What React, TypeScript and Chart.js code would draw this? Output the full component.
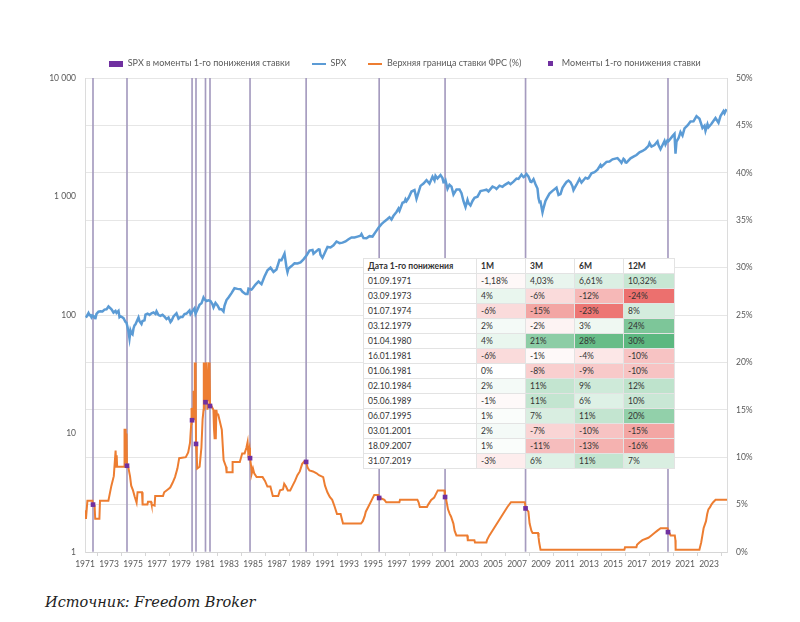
import React, { useEffect, useRef } from 'react';
import { Chart, registerables } from 'chart.js';

Chart.register(...registerables);

// ---------- data ----------
const xTickYears = [1971, 1973, 1975, 1977, 1979, 1981, 1983, 1985, 1987, 1989, 1991, 1993, 1995, 1997, 1999, 2001, 2003, 2005, 2007, 2009, 2011, 2013, 2015, 2017, 2019, 2021, 2023];
const leftTicks = [1, 10, 100, 1000, 10000];
const rightTicks = [0, 5, 10, 15, 20, 25, 30, 35, 40, 45, 50];

const spxDates = [
  '1971-01','1971-02','1971-03','1971-04','1971-05','1971-06','1971-07','1971-08','1971-09','1971-10','1971-11','1971-12',
  '1972-02','1972-04','1972-06','1972-08','1972-10','1972-12',
  '1973-01','1973-03','1973-05','1973-07','1973-08','1973-10','1973-11','1973-12',
  '1974-01','1974-03','1974-05','1974-06','1974-07','1974-08','1974-09','1974-10','1974-11','1974-12',
  '1975-01','1975-02','1975-03','1975-04','1975-06','1975-07','1975-09','1975-10','1975-12',
  '1976-01','1976-03','1976-05','1976-07','1976-09','1976-11','1976-12',
  '1977-02','1977-04','1977-06','1977-08','1977-10','1977-12',
  '1978-02','1978-03','1978-05','1978-08','1978-10','1978-12',
  '1979-02','1979-04','1979-06','1979-09','1979-10','1979-12',
  '1980-02','1980-03','1980-05','1980-07','1980-09','1980-11','1980-12',
  '1981-02','1981-04','1981-06','1981-08','1981-09','1981-11',
  '1982-01','1982-03','1982-05','1982-07','1982-08','1982-10','1982-12',
  '1983-03','1983-06','1983-09','1983-12',
  '1984-02','1984-05','1984-07','1984-08','1984-11','1984-12',
  '1985-03','1985-06','1985-09','1985-12',
  '1986-03','1986-06','1986-09','1986-12',
  '1987-03','1987-05','1987-08','1987-10','1987-11','1987-12',
  '1988-03','1988-06','1988-09','1988-12',
  '1989-03','1989-06','1989-09','1989-12',
  '1990-01','1990-06','1990-07','1990-08','1990-10','1990-12',
  '1991-03','1991-06','1991-09','1991-12',
  '1992-03','1992-06','1992-09','1992-12',
  '1993-03','1993-06','1993-09','1993-12',
  '1994-01','1994-03','1994-06','1994-09','1994-12',
  '1995-03','1995-06','1995-09','1995-12',
  '1996-03','1996-05','1996-07','1996-09','1996-12',
  '1997-02','1997-03','1997-06','1997-08','1997-09','1997-10','1997-12',
  '1998-03','1998-06','1998-08','1998-09','1998-12',
  '1999-03','1999-06','1999-09','1999-12',
  '2000-02','2000-03','2000-05','2000-08','2000-10','2000-11','2000-12',
  '2001-01','2001-03','2001-05','2001-07','2001-09','2001-12',
  '2002-03','2002-05','2002-07','2002-09','2002-11','2002-12',
  '2003-02','2003-04','2003-06','2003-09','2003-12',
  '2004-03','2004-06','2004-08','2004-12',
  '2005-03','2005-04','2005-07','2005-10','2005-12',
  '2006-04','2006-06','2006-09','2006-12',
  '2007-02','2007-05','2007-07','2007-08','2007-10','2007-12',
  '2008-02','2008-03','2008-05','2008-07','2008-09','2008-10','2008-11','2008-12',
  '2009-02','2009-03','2009-05','2009-07','2009-09','2009-12',
  '2010-04','2010-06','2010-08','2010-10','2010-12',
  '2011-02','2011-04','2011-06','2011-08','2011-09','2011-12',
  '2012-03','2012-05','2012-09','2012-11','2012-12',
  '2013-03','2013-06','2013-09','2013-12',
  '2014-01','2014-06','2014-09','2014-12',
  '2015-05','2015-08','2015-09','2015-11','2015-12',
  '2016-01','2016-02','2016-06','2016-09','2016-12',
  '2017-03','2017-06','2017-09','2017-12',
  '2018-01','2018-03','2018-06','2018-09','2018-10','2018-12',
  '2019-04','2019-05','2019-07','2019-08','2019-12',
  '2020-02','2020-03','2020-04','2020-06','2020-08','2020-10','2020-12',
  '2021-03','2021-06','2021-09','2021-12',
  '2022-03','2022-06','2022-08','2022-09','2022-11','2022-12',
  '2023-03','2023-07','2023-10','2023-12',
  '2024-03','2024-04','2024-06',
];
const spxValues = [
  95.9,96.8,100.3,103.9,99.6,99.7,95.6,99.0,98.3,94.2,94.0,102.1,
  106.6,107.7,107.1,111.1,111.6,118.1,
  116.0,111.5,104.9,108.2,104.3,108.3,96.0,97.6,
  96.6,94.0,87.3,86.0,79.3,72.2,63.5,73.9,70.0,68.6,
  77.0,81.6,83.4,87.3,95.2,88.8,83.9,89.0,90.2,
  100.9,102.8,100.2,103.4,105.2,102.1,107.5,
  99.8,98.4,100.5,96.8,92.3,95.1,
  87.0,89.2,97.2,103.3,93.2,96.1,
  96.3,101.8,102.9,109.3,101.8,107.9,
  113.7,102.1,111.2,121.7,125.5,140.5,135.8,
  131.3,132.8,131.2,123.0,116.2,126.4,
  120.4,112.0,111.9,107.1,119.5,133.7,140.6,
  153.0,168.1,166.1,164.9,
  157.1,150.6,150.7,166.7,163.6,167.2,
  180.7,191.9,182.1,211.3,
  238.9,250.8,231.3,242.2,
  291.7,290.1,329.8,251.8,230.3,247.1,
  258.9,273.5,271.9,277.7,
  294.9,318.0,349.2,353.4,
  329.1,358.0,356.2,322.6,304.0,330.2,
  375.2,371.2,387.9,417.1,
  403.7,408.1,417.8,435.7,
  451.7,450.5,458.9,466.5,
  481.6,445.8,444.3,462.7,459.3,
  500.7,544.8,584.4,615.9,
  645.5,669.1,640.0,687.3,740.7,
  790.8,757.1,885.1,899.5,947.3,914.6,970.4,
  1101.8,1133.8,957.3,1017.0,1229.2,
  1286.4,1372.7,1282.7,1469.3,
  1366.4,1498.6,1420.6,1517.7,1429.4,1315.2,1320.3,
  1366.0,1160.3,1255.8,1211.2,1040.9,1148.1,
  1147.4,1067.1,911.6,815.3,936.3,879.8,
  841.2,916.9,974.5,996.0,1111.9,
  1126.2,1140.8,1104.2,1211.9,
  1180.6,1156.9,1234.2,1207.0,1248.3,
  1310.6,1270.2,1335.9,1418.3,
  1406.8,1530.6,1455.3,1474.0,1549.4,1468.4,
  1330.6,1322.7,1400.4,1267.4,1166.4,968.8,896.2,903.3,
  735.1,797.9,919.1,987.5,1057.1,1115.1,
  1186.7,1030.7,1049.3,1183.3,1257.6,
  1327.2,1363.6,1320.6,1218.9,1131.4,1257.6,
  1408.5,1310.3,1440.7,1416.2,1426.2,
  1569.2,1606.3,1681.6,1848.4,
  1782.6,1960.2,1972.3,2058.9,
  2107.4,1972.2,1920.0,2080.4,2043.9,
  1940.2,1932.2,2098.9,2168.3,2238.8,
  2362.7,2423.4,2519.4,2673.6,
  2823.8,2640.9,2718.4,2914.0,2711.7,2506.9,
  2945.8,2752.1,2980.4,2926.5,3230.8,
  3380.0,2300.0,2912.4,3100.3,3500.3,3270.0,3756.1,
  3972.9,4297.5,4307.5,4766.2,
  4530.4,3785.4,3955.0,3585.6,4080.1,3839.5,
  4109.3,4589.0,4193.8,4769.8,
  5254.4,5035.7,5460.5,
];

// Upper bound of the Fed rate, % (decimal years)
const fedYears = [
  1971.0,1971.08,1971.2,1971.62,1971.67,1971.8,1971.85,1972.2,1972.25,1972.95,1973.2,1973.4,1973.55,1973.6,1973.64,1973.68,1973.72,1974.25,1974.28,1974.31,1974.34,1974.37,1974.4,1974.43,1974.46,1974.5,1974.6,1974.75,1974.85,1975.0,1975.15,1975.3,1975.38,1975.75,1975.8,1976.2,1976.25,1976.5,1976.55,1976.8,1976.85,1977.5,1977.6,1977.9,1978.1,1978.3,1978.5,1978.7,1978.85,1979.4,1979.6,1979.75,1979.85,1979.88,1979.92,1980.0,1980.05,1980.1,1980.15,1980.2,1980.22,1980.25,1980.32,1980.35,1980.55,1980.7,1980.8,1980.88,1980.9,1980.95,1981.0,1981.04,1981.1,1981.2,1981.3,1981.35,1981.38,1981.42,1981.5,1981.7,1981.75,1981.78,1981.82,1981.9,1981.95,1982.0,1982.1,1982.4,1982.55,1982.75,1982.8,1983.25,1983.3,1983.9,1984.1,1984.3,1984.45,1984.55,1984.6,1984.7,1984.75,1984.85,1984.9,1985.0,1985.1,1985.3,1985.8,1986.0,1986.2,1986.45,1986.55,1986.65,1987.1,1987.25,1987.5,1987.6,1987.75,1987.9,1988.1,1988.3,1988.5,1988.7,1988.9,1989.1,1989.3,1989.42,1989.55,1989.7,1990.0,1990.3,1990.5,1990.85,1991.0,1991.2,1991.4,1991.6,1991.8,1992.0,1992.3,1992.5,1994.0,1994.15,1994.3,1994.4,1994.6,1994.9,1995.1,1995.45,1995.5,1995.95,1996.1,1997.2,1997.25,1998.7,1998.8,1998.9,1999.5,1999.6,1999.85,2000.1,2000.2,2000.4,2000.95,2001.0,2001.1,2001.25,2001.4,2001.5,2001.7,2001.8,2001.95,2002.85,2002.9,2003.45,2003.5,2004.45,2004.5,2004.7,2004.95,2005.2,2005.45,2005.7,2005.95,2006.2,2006.5,2007.65,2007.71,2007.8,2007.95,2008.05,2008.2,2008.3,2008.75,2008.8,2008.85,2008.96,2015.95,2016.0,2016.95,2017.0,2017.2,2017.45,2017.95,2018.2,2018.45,2018.7,2018.97,2019.55,2019.6,2019.7,2019.8,2020.15,2020.2,2020.22,2022.2,2022.25,2022.35,2022.45,2022.55,2022.75,2022.85,2022.95,2023.1,2023.2,2023.35,2023.55,2024.5,
];
const fedRates = [
  4.4,3.5,5.4,5.4,5.0,4.9,3.5,3.5,5.4,5.4,7.0,8.0,10.7,9.0,10.2,9.0,9.0,9.0,13.0,9.5,13.0,10.0,13.0,9.5,12.5,9.1,9.0,8.0,7.0,6.5,5.8,5.2,6.3,6.3,5.0,5.0,5.3,5.3,5.0,4.9,5.9,5.9,6.3,6.6,6.8,7.3,7.9,8.8,9.9,10.0,10.5,11.5,13.5,15.2,13.9,14.0,17.0,14.0,20.0,15.0,20.0,11.4,10.0,8.8,9.0,11.0,14.0,15.0,20.0,15.0,20.0,15.8,20.0,15.0,20.0,16.0,20.0,15.4,15.5,15.0,13.0,15.0,12.0,12.0,15.0,14.5,14.5,12.9,9.7,9.0,8.4,8.4,9.5,9.5,10.4,10.4,11.0,11.6,10.5,11.0,9.9,9.0,8.3,8.8,8.3,7.9,7.9,7.5,6.9,6.9,6.4,5.9,5.9,6.5,6.6,7.2,6.9,6.5,6.5,7.0,7.5,8.1,8.5,9.3,9.6,9.5,8.9,8.6,8.5,8.3,8.1,7.9,7.0,6.3,5.8,5.5,4.8,4.0,4.0,3.0,3.0,3.25,3.75,4.25,4.75,5.5,6.0,6.0,5.75,5.5,5.25,5.25,5.5,5.5,5.25,4.75,4.75,5.0,5.5,5.75,6.0,6.5,6.5,5.75,5.5,4.5,4.0,3.75,3.0,2.25,1.75,1.75,1.25,1.25,1.0,1.0,1.25,1.75,2.25,2.75,3.25,3.75,4.25,4.75,5.25,5.25,4.75,4.5,4.25,3.0,2.25,2.0,2.0,1.5,1.0,0.25,0.25,0.5,0.5,0.75,1.0,1.25,1.5,1.75,2.0,2.25,2.5,2.5,2.25,2.0,1.75,1.75,1.25,0.25,0.25,0.5,1.0,1.75,2.5,3.25,4.0,4.5,4.75,5.0,5.25,5.5,5.5,
];

// first-cut moments shown on the chart
const cutDates = ['01.09.1971', '01.07.1974', '03.12.1979', '01.04.1980', '16.01.1981', '01.06.1981', '02.10.1984', '05.06.1989', '06.07.1995', '03.01.2001', '18.09.2007', '31.07.2019'];
const cutRates = [5.0, 9.1, 13.9, 11.4, 15.8, 15.4, 9.9, 9.5, 5.7, 5.8, 4.6, 2.1];

// table
const tableHeader = ['Дата 1-го понижения', '1M', '3M', '6M', '12M'];
const tableDates = ['01.09.1971', '03.09.1973', '01.07.1974', '03.12.1979', '01.04.1980', '16.01.1981', '01.06.1981', '02.10.1984', '05.06.1989', '06.07.1995', '03.01.2001', '18.09.2007', '31.07.2019'];
const ret1M = [-1.18, 4, -6, 2, 4, -6, 0, 2, -1, 1, 2, 1, -3];
const ret3M = [4.03, -6, -15, -2, 21, -1, -8, 11, 11, 7, -7, -11, 6];
const ret6M = [6.61, -12, -23, 3, 28, -4, -9, 9, 6, 11, -10, -13, 11];
const ret12M = [10.32, -24, 8, 24, 30, -10, -10, 12, 10, 20, -15, -16, 7];

const legendLabels = ['SPX в моменты 1-го понижения ставки', 'SPX', 'Верхняя граница ставки ФРС (%)', 'Моменты 1-го понижения ставки'];
const sourceText = 'Источник: Freedom Broker';

// ---------- styles ----------
const FONT = 'Lato, "Open Sans", "Noto Sans", sans-serif';
const PURPLE = '#7030a0';
const VLINE = '#a59bbf';
const BLUE = '#5b9bd5';
const ORANGE = '#ed7d31';
const AXIS_TEXT = '#595959';
const GRID = '#e6e6e6';

const monthToYear = (s: string) => {
  const [y, m] = s.split('-').map(Number);
  return y + (m - 0.5) / 12;
};
const dateToYear = (s: string) => {
  const [d, m, y] = s.split('.').map(Number);
  return y + (m - 1) / 12 + (d - 1) / 365;
};
const fmtThousands = (v: number) => String(v).replace(/\B(?=(\d{3})+(?!\d))/g, ' ');
const fmtPct = (v: number) => (Number.isInteger(v) ? `${v}%` : `${v.toFixed(2).replace('.', ',')}%`);

const allRet = [...ret1M, ...ret3M, ...ret6M, ...ret12M];
const retMin = Math.min(...allRet);
const retMax = Math.max(...allRet);
const mix = (a: number[], b: number[], t: number) =>
  `rgb(${a.map((v, i) => Math.round(v + (b[i] - v) * t)).join(',')})`;
const cellColor = (v: number) => {
  const white = [255, 255, 255];
  if (v < 0) return mix(white, [236, 112, 110], v / retMin);
  if (v > 0) return mix(white, [92, 184, 128], v / retMax);
  return 'rgb(255,255,255)';
};

function makeIcon(w: number, h: number, color: string) {
  const c = document.createElement('canvas');
  c.width = w;
  c.height = h;
  const ctx = c.getContext('2d')!;
  ctx.fillStyle = color;
  ctx.fillRect(0, 0, w, h);
  return c;
}

export default function App() {
  const ref = useRef<HTMLCanvasElement>(null);

  useEffect(() => {
    if (!ref.current) return;
    Chart.defaults.font.family = FONT;
    const icons = [makeIcon(14, 6, PURPLE), makeIcon(14, 2, BLUE), makeIcon(14, 2, ORANGE), makeIcon(5, 5, PURPLE)];
    const legendColors = [PURPLE, BLUE, ORANGE, PURPLE];

    const chart = new Chart(ref.current, {
      type: 'line',
      data: {
        datasets: [
          {
            type: 'bar',
            label: legendLabels[0],
            data: cutDates.map((d) => ({ x: dateToYear(d), y: 50 })),
            yAxisID: 'yR',
            backgroundColor: VLINE,
            borderWidth: 0,
            barThickness: 1,
            order: 3,
          } as any,
          {
            type: 'line',
            label: legendLabels[1],
            data: spxDates.map((d, i) => ({ x: monthToYear(d), y: spxValues[i] })),
            yAxisID: 'yL',
            borderColor: BLUE,
            borderWidth: 2.5,
            pointRadius: 0,
            tension: 0,
            order: 2,
          },
          {
            type: 'line',
            label: legendLabels[2],
            data: fedYears.map((x, i) => ({ x, y: fedRates[i] })),
            yAxisID: 'yR',
            borderColor: ORANGE,
            borderWidth: 2,
            pointRadius: 0,
            tension: 0,
            order: 1,
          },
          {
            type: 'line',
            label: legendLabels[3],
            data: cutDates.map((d, i) => ({ x: dateToYear(d), y: cutRates[i] })),
            yAxisID: 'yR',
            showLine: false,
            pointStyle: 'rect',
            pointRadius: 3.3,
            pointBackgroundColor: PURPLE,
            pointBorderColor: PURPLE,
            pointBorderWidth: 0,
            order: 0,
          },
        ],
      },
      options: {
        responsive: false,
        animation: false,
        events: [],
        layout: { padding: { left: 10, right: 0, top: 37, bottom: 0 } },
        plugins: {
          tooltip: { enabled: false },
          legend: {
            display: true,
            position: 'top',
            labels: {
              usePointStyle: true,
              pointStyleWidth: 14,
              padding: 22,
              color: AXIS_TEXT,
              font: { family: FONT, size: 9 },
              generateLabels: () =>
                legendLabels.map((text, i) => ({
                  text,
                  pointStyle: icons[i] as any,
                  fillStyle: legendColors[i],
                  strokeStyle: legendColors[i],
                  lineWidth: 0,
                  hidden: false,
                  datasetIndex: i,
                  fontColor: AXIS_TEXT,
                })),
            },
          },
        },
        scales: {
          x: {
            type: 'linear',
            min: 1971,
            max: 2024.5,
            offset: false,
            afterBuildTicks: (s: any) => {
              s.ticks = xTickYears.map((v) => ({ value: v }));
            },
            afterFit: (s: any) => {
              s.height = 30;
            },
            ticks: {
              autoSkip: false,
              maxRotation: 0,
              minRotation: 0,
              padding: 3,
              color: AXIS_TEXT,
              font: { size: 8.5 },
              callback: (v: any) => String(v),
            },
            grid: { drawOnChartArea: false, drawTicks: true, tickLength: 4, color: '#d6d6d6' },
            border: { display: true, color: '#d6d6d6' },
          },
          yL: {
            type: 'logarithmic',
            position: 'left',
            min: 1,
            max: 10000,
            afterBuildTicks: (s: any) => {
              s.ticks = leftTicks.map((v) => ({ value: v }));
            },
            afterFit: (s: any) => {
              s.width = 75;
            },
            ticks: {
              padding: 9,
              color: AXIS_TEXT,
              font: { size: 8.5 },
              callback: (v: any) => fmtThousands(Number(v)),
            },
            grid: { display: false, drawTicks: false },
            border: { display: true, color: '#dcdcdc' },
          },
          yR: {
            type: 'linear',
            position: 'right',
            min: 0,
            max: 50,
            afterBuildTicks: (s: any) => {
              s.ticks = rightTicks.map((v) => ({ value: v }));
            },
            afterFit: (s: any) => {
              s.width = 73;
            },
            ticks: {
              padding: 9,
              color: AXIS_TEXT,
              font: { size: 8.5 },
              callback: (v: any) => `${v}%`,
            },
            grid: { color: GRID, drawTicks: false },
            border: { display: true, color: '#dcdcdc' },
          },
        },
      },
    });
    return () => chart.destroy();
  }, []);

  const cellBase: React.CSSProperties = {
    border: '1px solid #e3e3e3',
    padding: '0 0 0 4px',
    height: 14,
    lineHeight: '14px',
    whiteSpace: 'nowrap',
    overflow: 'hidden',
  };
  const cols = [ret1M, ret3M, ret6M, ret12M];

  return (
    <div style={{ position: 'absolute', left: 0, top: 0, width: 800, height: 622, background: '#fff', overflow: 'hidden' }}>
      <canvas ref={ref} width={800} height={582} style={{ display: 'block', width: 800, height: 582 }} />
      <table
        style={{
          position: 'absolute',
          left: 363,
          top: 258,
          width: 311,
          borderCollapse: 'collapse',
          tableLayout: 'fixed',
          background: '#fff',
          fontFamily: FONT,
          fontSize: 8.5,
          color: '#333',
        }}
      >
        <colgroup>
          <col style={{ width: 113 }} />
          <col style={{ width: 49 }} />
          <col style={{ width: 49 }} />
          <col style={{ width: 49 }} />
          <col style={{ width: 51 }} />
        </colgroup>
        <tbody>
          <tr>
            {tableHeader.map((h) => (
              <td key={h} style={{ ...cellBase, fontWeight: 700 }}>
                {h}
              </td>
            ))}
          </tr>
          {tableDates.map((d, r) => (
            <tr key={d}>
              <td style={cellBase}>{d}</td>
              {cols.map((c, k) => (
                <td key={k} style={{ ...cellBase, background: cellColor(c[r]) }}>
                  {fmtPct(c[r])}
                </td>
              ))}
            </tr>
          ))}
        </tbody>
      </table>
      <div
        style={{
          position: 'absolute',
          left: 45,
          top: 594,
          fontFamily: '"DejaVu Serif", "Liberation Serif", serif',
          fontStyle: 'italic',
          fontSize: 14.5,
          color: '#222',
          whiteSpace: 'nowrap',
        }}
      >
        {sourceText}
      </div>
    </div>
  );
}
